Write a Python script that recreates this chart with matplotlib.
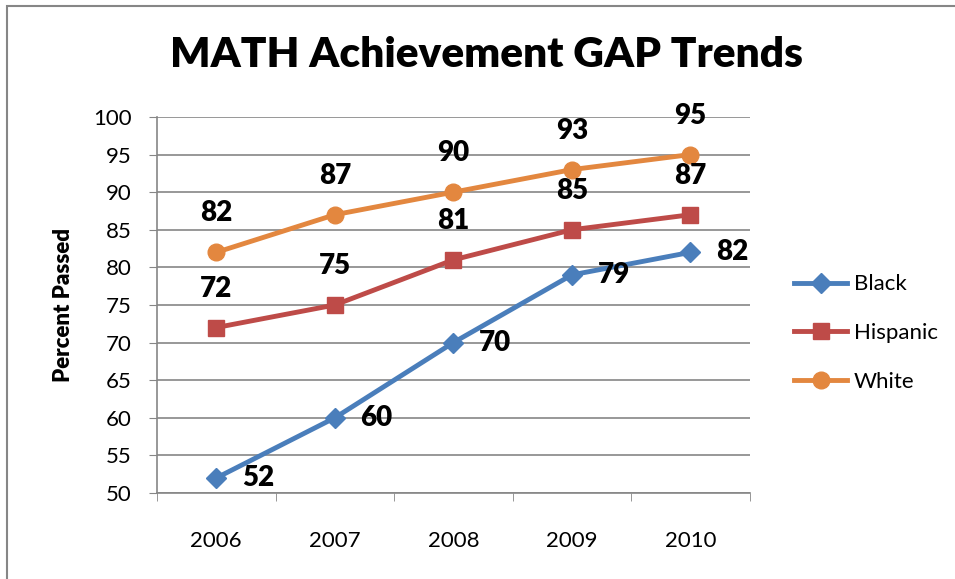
import matplotlib.pyplot as plt
from matplotlib.patches import Rectangle

# data
years = ['2006', '2007', '2008', '2009', '2010']
black = [52, 60, 70, 79, 82]
hispanic = [72, 75, 81, 85, 87]
white = [82, 87, 90, 93, 95]

plt.rcParams['font.family'] = ['Lato', 'DejaVu Sans']

fig = plt.figure(figsize=(9.55, 5.79), dpi=100)
ax = fig.add_axes([0.1644, 0.1485, 0.6206, 0.6495])

x = range(len(years))
ax.plot(x, black, color='#4A7EBB', lw=3.5, marker='D', ms=10, label='Black', zorder=3)
ax.plot(x, hispanic, color='#BE4B48', lw=3.5, marker='s', ms=12, label='Hispanic', zorder=3)
ax.plot(x, white, color='#E3873F', lw=3.5, marker='o', ms=12, label='White', zorder=3)

# data labels
lab = dict(ha='center', va='center', fontsize=20, fontweight='heavy', textcoords='offset points')
for i in x:
    ax.annotate(str(white[i]), (i, white[i]), xytext=(0, 28), **lab)
    ax.annotate(str(hispanic[i]), (i, hispanic[i]), xytext=(0, 28), **lab)
    ax.annotate(str(black[i]), (i, black[i]), xytext=(30, 0), **lab)

ax.set_xlim(-0.5, 4.5)
ax.set_ylim(50, 100)
ax.set_yticks(range(50, 101, 5))
ax.set_xticks(list(x))
ax.set_xticklabels(years)
ax.set_xticks([i - 0.5 for i in range(6)], minor=True)
ax.tick_params(axis='x', which='major', length=0, pad=27, labelsize=16)
ax.tick_params(axis='x', which='minor', length=6, color='#868686')
ax.tick_params(axis='y', length=6, color='#868686', labelsize=16, pad=12)
ax.grid(axis='y', color='#868686', lw=1.2)
ax.set_axisbelow(True)
for s in ['top', 'right']:
    ax.spines[s].set_visible(False)
for s in ['left', 'bottom']:
    ax.spines[s].set_color('#868686')
    ax.spines[s].set_linewidth(1.2)

ax.set_ylabel('Percent Passed', fontsize=16, fontweight='heavy', labelpad=14)
fig.suptitle('MATH Achievement GAP Trends', x=0.509, y=0.937, fontsize=30.5, fontweight='heavy')

ax.legend(loc='center left', bbox_to_anchor=(1.06, 0.425), frameon=False, fontsize=16,
          handlelength=2.4, labelspacing=1.3, handletextpad=0.3, borderaxespad=0)

fig.patches.append(Rectangle((0.007, -0.01), 1.2, 1.0, transform=fig.transFigure,
                             fill=False, edgecolor='#868686', lw=1.5))

fig.savefig('out.png', dpi=100)
